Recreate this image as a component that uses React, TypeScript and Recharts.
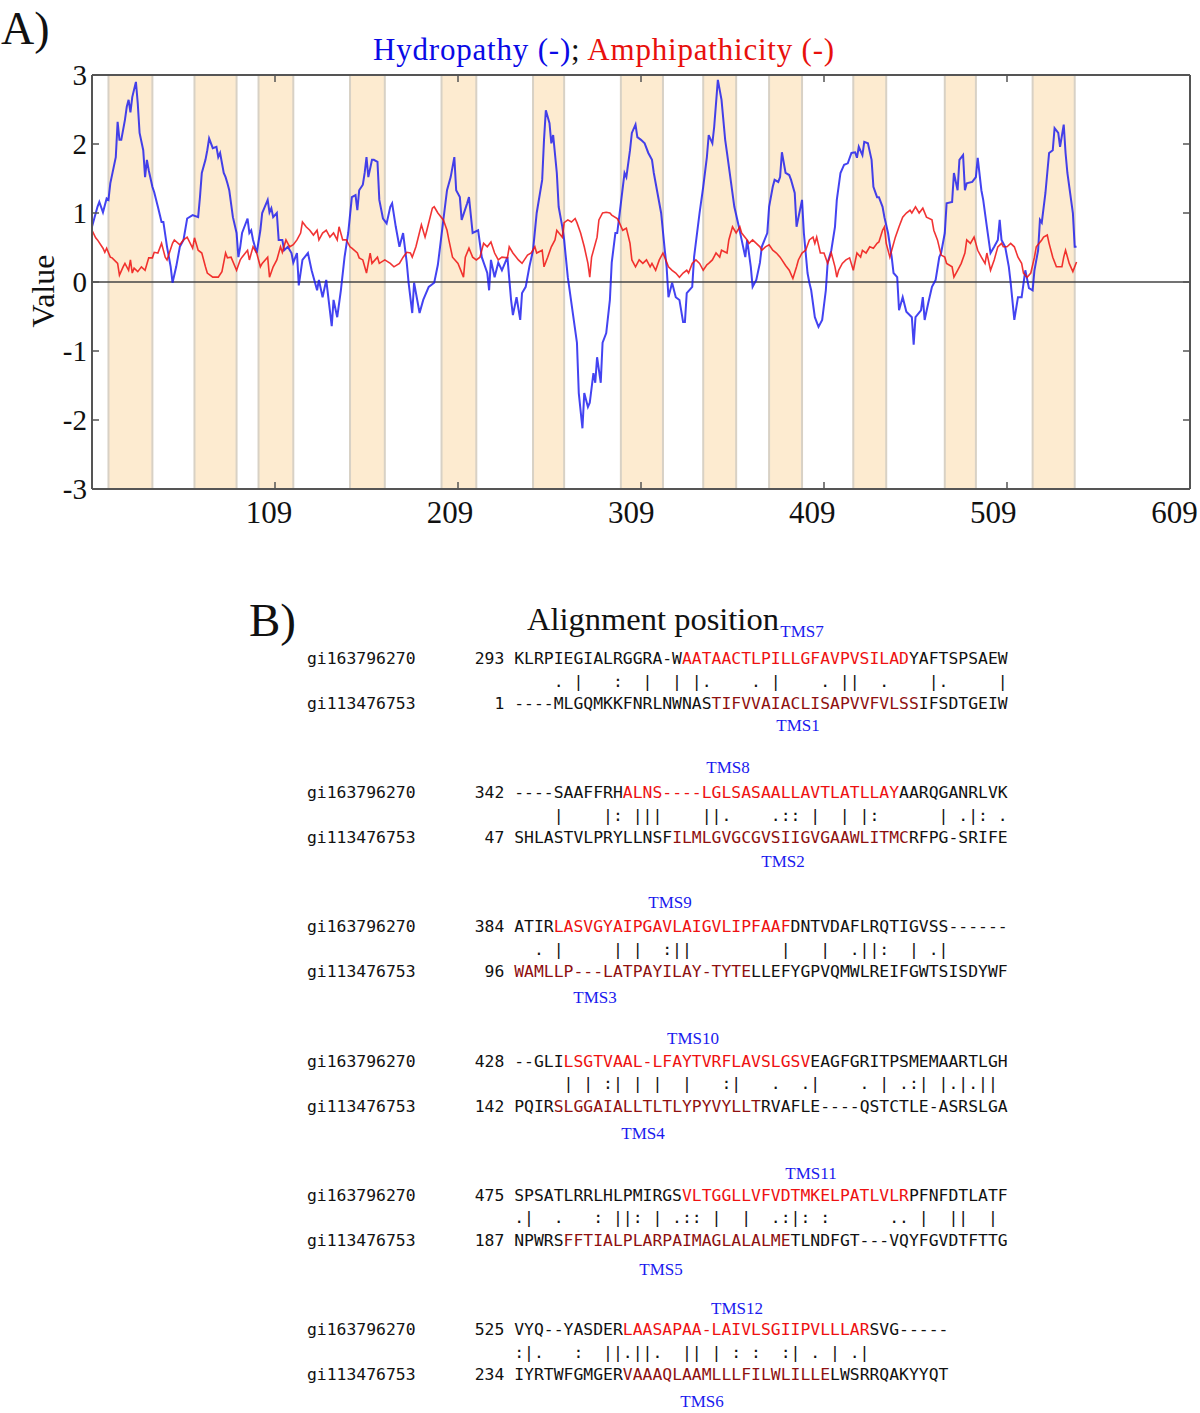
import React from "react";
import { LineChart, Line, XAxis, YAxis, ReferenceArea, ReferenceLine } from "recharts";

// residue positions and hydropathy values (blue)
const hydroPos = [
  9, 12, 13, 15, 17, 18, 19, 22, 23, 24, 25, 27, 28, 29, 30, 31, 33, 34, 35, 37, 38, 39, 40, 42, 43, 45, 47, 48, 50, 52,
  53, 55, 57, 59, 61, 64, 67, 68, 69, 71, 72, 73, 75, 77, 78, 79, 81, 82, 83, 84, 86, 88, 89, 90, 91, 94, 95, 96, 97, 99,
  101, 102, 105, 106, 107, 108, 110, 111, 113, 114, 116, 118, 119, 121, 122, 124, 127, 129, 132, 133, 135, 137, 140, 141,
  143, 145, 147, 149, 151, 153, 154, 155, 157, 158, 159, 160, 162, 163, 165, 166, 168, 170, 172, 173, 175, 177, 179, 181,
  182, 184, 185, 188, 190, 193, 196, 198, 201, 203, 205, 207, 208, 210, 211, 214, 215, 217, 220, 222, 225, 226, 227, 229,
  231, 233, 236, 238, 239, 241, 243, 244, 246, 248, 250, 252, 255, 256, 257, 259, 260, 261, 263, 264, 266, 267, 269, 274,
  275, 277, 278, 280, 281, 283, 284, 285, 287, 288, 290, 292, 293, 295, 296, 298, 300, 301, 303, 304, 306, 307, 309, 311,
  313, 315, 316, 318, 320, 322, 323, 324, 326, 328, 330, 332, 333, 334, 337, 338, 341, 343, 345, 346, 348, 349, 351, 353,
  355, 356, 358, 360, 362, 364, 366, 367, 369, 370, 372, 374, 375, 378, 379, 381, 382, 384, 385, 386, 388, 390, 391, 393,
  394, 397, 398, 400, 401, 402, 404, 406, 408, 410, 411, 413, 415, 416, 418, 420, 422, 424, 426, 427, 428, 430, 431, 433,
  435, 436, 438, 439, 441, 442, 444, 446, 447, 449, 450, 452, 454, 457, 458, 459, 462, 463, 464, 466, 468, 470, 472, 473,
  475, 476, 479, 480, 482, 483, 485, 486, 487, 490, 492, 493, 495, 496, 498, 500, 502, 504, 505, 506, 508, 510, 511, 513,
  515, 517, 519, 521, 523, 524, 526, 527, 528, 530, 532, 534, 535, 537, 538, 540, 541, 542, 545, 546, 547,
];
const hydroVal = [
  0.8, 1.09, 1.16, 1.01, 1.21, 1.19, 1.43, 1.81, 2.32, 2.06, 2.06, 2.35, 2.54, 2.64, 2.46, 2.68, 2.9, 2.59, 2.16, 1.91,
  1.52, 1.77, 1.62, 1.38, 1.3, 1.09, 0.87, 0.87, 0.51, 0.22, -0.01, 0.22, 0.51, 0.61, 0.92, 0.97, 0.94, 1.23, 1.58, 1.77,
  1.91, 2.08, 1.94, 1.96, 1.81, 1.87, 1.58, 1.52, 1.43, 1.33, 0.94, 0.71, 0.36, 0.51, 0.71, 0.92, 0.71, 0.75, 0.61, 0.42,
  0.75, 1.0, 1.19, 1.01, 1.07, 0.94, 1.0, 0.61, 0.61, 0.46, 0.51, 0.42, 0.28, 0.42, -0.05, 0.32, 0.42, 0.17, -0.12, 0.03,
  -0.22, 0.03, -0.64, -0.26, -0.51, -0.12, 0.36, 0.71, 1.23, 1.26, 1.04, 1.33, 1.41, 1.58, 1.81, 1.52, 1.77, 1.77, 1.74,
  1.19, 0.92, 0.85, 1.09, 1.14, 0.8, 0.51, 0.71, 0.28, -0.01, -0.45, -0.01, -0.45, -0.26, -0.07, -0.01, 0.25, 0.9, 1.33,
  1.52, 1.81, 1.33, 1.23, 0.9, 1.14, 1.23, 0.71, 0.75, 0.36, 0.13, -0.12, 0.32, 0.07, 0.28, 0.17, 0.36, -0.26, -0.48,
  -0.22, -0.55, -0.16, -0.07, 0.22, 0.46, 1.0, 1.48, 2.06, 2.49, 2.3, 2.01, 2.13, 1.58, 1.09, 0.8, 0.61, 0.07, -0.88,
  -1.61, -2.12, -1.61, -1.81, -1.75, -1.32, -1.46, -1.09, -1.46, -0.88, -0.74, -0.26, 0.28, 0.71, 0.71, 1.14, 1.58, 1.52,
  1.91, 2.16, 2.28, 2.1, 2.06, 2.01, 1.87, 1.77, 1.58, 1.29, 1.0, 0.46, 0.22, -0.22, -0.01, -0.22, -0.26, -0.58, -0.58,
  -0.16, -0.07, 0.36, 1.0, 1.38, 1.81, 2.13, 2.01, 2.25, 2.93, 2.64, 2.06, 1.87, 1.48, 1.09, 0.86, 0.61, 0.36, 0.61, 0.22,
  -0.07, 0.03, 0.28, 0.51, 0.71, 1.09, 1.38, 1.48, 1.45, 1.52, 1.88, 1.58, 1.55, 1.48, 1.29, 0.8, 1.19, 0.71, 0.13, -0.01,
  -0.12, -0.51, -0.65, -0.55, -0.12, 0.28, 0.46, 0.8, 1.19, 1.58, 1.7, 1.72, 1.87, 1.88, 1.8, 1.96, 1.84, 2.03, 2.01, 1.77,
  1.38, 1.23, 1.23, 1.09, 0.94, 0.71, 0.36, 0.13, 0.07, -0.41, -0.22, -0.43, -0.51, -0.91, -0.51, -0.41, -0.22, -0.55,
  -0.3, -0.07, 0.03, 0.36, 0.42, 0.71, 1.14, 1.16, 1.58, 1.33, 1.77, 1.84, 1.33, 1.43, 1.45, 1.52, 1.8, 1.33, 1.19, 0.8,
  0.42, 0.51, 0.61, 0.9, 0.61, 0.51, 0.22, -0.01, -0.55, -0.22, -0.22, 0.17, -0.09, -0.12, 0.17, 0.46, 0.9, 0.86, 1.29,
  1.87, 1.91, 2.23, 2.16, 1.96, 2.28, 1.87, 1.58, 1.0, 0.51, 0.51,
];

// residue positions and amphipathicity values (red)
const amphiPos = [
  9, 11, 12, 15, 16, 17, 19, 20, 23, 24, 26, 27, 29, 30, 31, 32, 34, 36, 38, 40, 42, 43, 45, 47, 49, 50, 53, 54, 57, 59,
  61, 64, 65, 67, 69, 71, 72, 75, 78, 80, 82, 83, 85, 88, 90, 91, 94, 95, 97, 99, 101, 102, 105, 106, 108, 110, 112, 113,
  115, 117, 119, 121, 123, 124, 126, 128, 130, 132, 133, 135, 137, 139, 141, 143, 144, 146, 148, 150, 151, 154, 155, 157,
  159, 161, 162, 165, 166, 169, 172, 174, 177, 179, 181, 183, 184, 186, 189, 191, 192, 195, 196, 198, 201, 203, 204, 206,
  209, 212, 213, 215, 217, 219, 221, 223, 225, 227, 229, 231, 233, 236, 237, 239, 242, 244, 247, 249, 251, 252, 255, 256,
  258, 260, 262, 263, 266, 267, 269, 271, 273, 274, 276, 278, 280, 281, 282, 285, 286, 288, 290, 292, 293, 296, 297, 299,
  301, 303, 304, 306, 308, 310, 312, 314, 315, 317, 319, 321, 323, 324, 326, 328, 330, 332, 334, 335, 337, 339, 341, 343,
  345, 346, 348, 350, 352, 353, 356, 357, 359, 361, 363, 364, 367, 368, 370, 372, 374, 375, 377, 379, 381, 383, 385, 386,
  388, 390, 392, 394, 395, 397, 399, 401, 403, 404, 405, 407, 409, 411, 413, 415, 416, 417, 419, 421, 423, 425, 427, 429,
  430, 432, 434, 436, 438, 439, 441, 442, 443, 445, 446, 448, 450, 452, 454, 456, 457, 459, 461, 463, 465, 468, 469, 471,
  473, 475, 476, 479, 480, 482, 484, 486, 487, 489, 491, 493, 495, 497, 498, 500, 502, 504, 506, 507, 509, 511, 513, 515,
  517, 518, 520, 522, 524, 525, 528, 529, 531, 532, 534, 536, 539, 540, 541, 543, 545, 547,
];
const amphiVal = [
  0.75, 0.64, 0.61, 0.49, 0.43, 0.49, 0.36, 0.35, 0.27, 0.1, 0.22, 0.27, 0.17, 0.32, 0.13, 0.2, 0.15, 0.22, 0.17, 0.35,
  0.35, 0.43, 0.42, 0.56, 0.36, 0.32, 0.56, 0.61, 0.54, 0.61, 0.65, 0.49, 0.64, 0.46, 0.42, 0.22, 0.13, 0.07, 0.07, 0.15,
  0.42, 0.35, 0.36, 0.17, 0.32, 0.36, 0.46, 0.32, 0.51, 0.42, 0.22, 0.27, 0.36, 0.07, 0.22, 0.32, 0.51, 0.43, 0.61, 0.51,
  0.54, 0.61, 0.71, 0.87, 0.8, 0.75, 0.68, 0.75, 0.61, 0.71, 0.75, 0.65, 0.71, 0.61, 0.8, 0.61, 0.61, 0.51, 0.49, 0.42,
  0.35, 0.32, 0.13, 0.42, 0.27, 0.36, 0.27, 0.32, 0.27, 0.22, 0.27, 0.36, 0.43, 0.42, 0.36, 0.51, 0.83, 0.65, 0.75, 1.07,
  1.09, 1.0, 0.9, 0.75, 0.61, 0.36, 0.27, 0.07, 0.36, 0.49, 0.36, 0.32, 0.36, 0.56, 0.51, 0.58, 0.42, 0.32, 0.36, 0.35,
  0.51, 0.42, 0.32, 0.27, 0.39, 0.42, 0.51, 0.42, 0.46, 0.22, 0.36, 0.51, 0.61, 0.75, 0.65, 0.86, 0.9, 0.87, 0.92, 0.86,
  0.71, 0.51, 0.27, 0.07, 0.36, 0.65, 0.9, 1.0, 1.01, 1.0, 0.97, 0.92, 0.87, 0.75, 0.78, 0.56, 0.32, 0.22, 0.32, 0.27,
  0.32, 0.22, 0.27, 0.17, 0.32, 0.42, 0.29, 0.22, 0.17, 0.13, 0.07, 0.13, 0.17, 0.13, 0.27, 0.32, 0.27, 0.17, 0.25, 0.27,
  0.32, 0.42, 0.36, 0.46, 0.42, 0.61, 0.8, 0.71, 0.8, 0.71, 0.61, 0.56, 0.61, 0.56, 0.51, 0.46, 0.51, 0.54, 0.46, 0.42,
  0.36, 0.32, 0.24, 0.17, 0.05, 0.22, 0.32, 0.42, 0.46, 0.61, 0.65, 0.56, 0.65, 0.42, 0.42, 0.27, 0.42, 0.22, 0.07, 0.17,
  0.27, 0.32, 0.35, 0.17, 0.42, 0.36, 0.46, 0.42, 0.51, 0.49, 0.56, 0.58, 0.75, 0.8, 0.56, 0.36, 0.46, 0.65, 0.8, 0.94,
  1.0, 1.04, 1.0, 1.09, 1.0, 1.07, 0.94, 0.9, 0.75, 0.61, 0.39, 0.36, 0.27, 0.22, 0.07, 0.17, 0.27, 0.42, 0.61, 0.56,
  0.65, 0.46, 0.36, 0.27, 0.42, 0.17, 0.32, 0.51, 0.56, 0.51, 0.51, 0.56, 0.51, 0.36, 0.27, 0.13, 0.07, 0.13, 0.36, 0.51,
  0.61, 0.65, 0.68, 0.56, 0.36, 0.22, 0.22, 0.36, 0.46, 0.27, 0.15, 0.29,
];

// predicted TMS regions (shaded)
const tmsStart = [18, 65, 100, 150, 200, 250, 298, 343, 379, 425, 475, 523];
const tmsEnd = [42, 88, 119, 169, 219, 267, 321, 361, 397, 443, 492, 546];

const xTicks = [109, 209, 309, 409, 509, 609];
const yTicks = [-3, -2, -1, 0, 1, 2, 3];

// alignment (panel B)
const topName = "gi163796270";
const bottomName = "gi113476753";
const topStarts = [293, 342, 384, 428, 475, 525];
const bottomStarts = [1, 47, 96, 142, 187, 234];
const topSeqs = [
  ["KLRPIEGIALRGGRA-W", "AATAACTLPILLGFAVPVSILAD", "YAFTSPSAEW"],
  ["----SAAFFRH", "ALNS----LGLSASAALLAVTLATLLAY", "AARQGANRLVK"],
  ["ATIR", "LASVGYAIPGAVLAIGVLIPFAAF", "DNTVDAFLRQTIGVSS------"],
  ["--GLI", "LSGTVAAL-LFAYTVRFLAVSLGSV", "EAGFGRITPSMEMAARTLGH"],
  ["SPSATLRRLHLPMIRGS", "VLTGGLLVFVDTMKELPATLVLR", "PFNFDTLATF"],
  ["VYQ--YASDER", "LAASAPAA-LAIVLSGIIPVLLLAR", "SVG-----"],
];
const bottomSeqs = [
  ["----MLGQMKKFNRLNWNAS", "TIFVVAIACLISAPVVFVLSS", "IFSDTGEIW"],
  ["SHLASTVLPRYLLNSF", "ILMLGVGCGVSIIGVGAAWLITMC", "RFPG-SRIFE"],
  ["", "WAMLLP---LATPAYILAY-TYTE", "LLEFYGPVQMWLREIFGWTSISDYWF"],
  ["PQIR", "SLGGAIALLTLTLYPYVYLLT", "RVAFLE----QSTCTLE-ASRSLGA"],
  ["NPWRS", "FFTIALPLARPAIMAGLALALME", "TLNDFGT---VQYFGVDTFTTG"],
  ["IYRTWFGMGER", "VAAAQLAAMLLLFILWLILLE", "LWSRRQAKYYQT"],
];
const matchLines = [
  "    . |   :  |  | |.    . |    . ||  .    |.     |",
  "    |    |: |||    ||.    .:: |  | |:      | .|: .",
  "  . |     | |  :||         |   |  .||:  | .|",
  "     | | :| | |  |   :|   .  .|    . | .:| |.|.||",
  ".|  .   : ||: | .:: |  |  .:|: :      .. |  ||  |",
  ":|.   :  ||.||.  || | : :  :| . | .|",
];
const topTms = ["TMS7", "TMS8", "TMS9", "TMS10", "TMS11", "TMS12"];
const bottomTms = ["TMS1", "TMS2", "TMS3", "TMS4", "TMS5", "TMS6"];

// label placement for panel B
const topTmsX = [802, 728, 670, 693, 811, 737];
const topTmsY = [637, 773, 908, 1044, 1179, 1314];
const bottomTmsX = [798, 783, 595, 643, 661, 702];
const bottomTmsY = [731, 867, 1003, 1139, 1275, 1407];

const hydroData = hydroPos.map((x, i) => ({ x, v: hydroVal[i] }));
const amphiData = amphiPos.map((x, i) => ({ x, v: amphiVal[i] }));

const SERIF = '"Liberation Serif", "Times New Roman", serif';
const MONO = '"DejaVu Sans Mono", monospace';
const AXIS = "#555";
const BLUE = "#1414ee";
const RED = "#ee1111";
const DARK_RED = "#8e1010";

function LeftTick(props: any) {
  const { x, y, payload } = props;
  return (
    <g>
      <line x1={x} x2={x + 7} y1={y} y2={y} stroke={AXIS} strokeWidth={1.5} />
      <text x={x - 5} y={y} dy="0.35em" textAnchor="end" fontFamily={SERIF} fontSize={29} fill="#111">
        {payload.value}
      </text>
    </g>
  );
}

function RightTick(props: any) {
  const { x, y } = props;
  return <line x1={x - 7} x2={x} y1={y} y2={y} stroke={AXIS} strokeWidth={1.5} />;
}

function TopTick(props: any) {
  const { x, y } = props;
  return <line x1={x} x2={x} y1={y} y2={y + 7} stroke={AXIS} strokeWidth={1.5} />;
}

function BottomTick(props: any) {
  const { x, y, payload } = props;
  const dx = -6 - (x - 274) * 0.0105;
  return (
    <g>
      <line x1={x} x2={x} y1={y} y2={y - 7} stroke={AXIS} strokeWidth={1.5} />
      <text x={x + dx} y={y + 34} textAnchor="middle" fontFamily={SERIF} fontSize={31} fill="#111">
        {payload.value}
      </text>
    </g>
  );
}

function Profile() {
  const frame = { stroke: AXIS, strokeWidth: 2 };
  return (
    <LineChart width={1200} height={540} margin={{ top: 0, right: 0, bottom: 0, left: 0 }}>
      <XAxis
        type="number"
        dataKey="x"
        domain={[9, 609]}
        ticks={xTicks}
        interval={0}
        height={51}
        tickSize={0}
        tickMargin={0}
        tickLine={false}
        axisLine={frame}
        tick={<BottomTick />}
        allowDataOverflow
      />
      <XAxis
        xAxisId="top"
        orientation="top"
        type="number"
        dataKey="x"
        domain={[9, 609]}
        ticks={xTicks}
        interval={0}
        height={75}
        tickSize={0}
        tickMargin={0}
        tickLine={false}
        axisLine={frame}
        tick={<TopTick />}
        allowDataOverflow
      />
      <YAxis
        type="number"
        domain={[-3, 3]}
        ticks={yTicks}
        interval={0}
        width={92}
        tickSize={0}
        tickMargin={0}
        tickLine={false}
        axisLine={frame}
        tick={<LeftTick />}
        allowDataOverflow
      />
      <YAxis
        yAxisId="right"
        orientation="right"
        type="number"
        domain={[-3, 3]}
        ticks={yTicks}
        interval={0}
        width={10}
        tickSize={0}
        tickMargin={0}
        tickLine={false}
        axisLine={frame}
        tick={<RightTick />}
        allowDataOverflow
      />
      {tmsStart.map((s, i) => (
        <ReferenceArea
          key={i}
          x1={s}
          x2={tmsEnd[i]}
          y1={-3}
          y2={3}
          fill="#fdebd0"
          fillOpacity={1}
          stroke="#d8d1c5"
          strokeWidth={2}
        />
      ))}
      <ReferenceLine y={0} stroke="#444" strokeWidth={1.5} />
      <Line
        data={hydroData}
        dataKey="v"
        type="linear"
        stroke={BLUE}
        strokeOpacity={0.8}
        strokeWidth={2}
        dot={false}
        isAnimationActive={false}
      />
      <Line
        data={amphiData}
        dataKey="v"
        type="linear"
        stroke={RED}
        strokeOpacity={0.85}
        strokeWidth={1.6}
        dot={false}
        isAnimationActive={false}
      />
    </LineChart>
  );
}

function seqRow(name: string, start: number, segs: string[], hi: string, y: number, key: string) {
  return (
    <text key={key} x={307} y={y} fontFamily={MONO} fontSize={16.4} fill="#111" xmlSpace="preserve" style={{ whiteSpace: "pre" }}>
      <tspan>{name.padEnd(17) + String(start).padStart(3) + " "}</tspan>
      <tspan>{segs[0]}</tspan>
      <tspan fill={hi}>{segs[1]}</tspan>
      <tspan>{segs[2]}</tspan>
    </text>
  );
}

function Alignment() {
  const row0 = 664;
  const block = 134.2;
  return (
    <g>
      <text x={249} y={636} fontFamily={SERIF} fontSize={47} fill="#111">B)</text>
      <text x={527} y={630} fontFamily={SERIF} fontSize={32.5} fill="#111">Alignment position</text>
      {topSeqs.map((segs, k) => {
        const y = row0 + block * k;
        return (
          <g key={k}>
            <text x={topTmsX[k]} y={topTmsY[k]} textAnchor="middle" fontFamily={SERIF} fontSize={17} fill="#1a1aee">
              {topTms[k]}
            </text>
            {seqRow(topName, topStarts[k], segs, RED, y, "t")}
            <text x={307} y={y + 22.5} fontFamily={MONO} fontSize={16.4} fill="#111" xmlSpace="preserve" style={{ whiteSpace: "pre" }}>
              {" ".repeat(21) + matchLines[k]}
            </text>
            {seqRow(bottomName, bottomStarts[k], bottomSeqs[k], DARK_RED, y + 45, "b")}
            <text x={bottomTmsX[k]} y={bottomTmsY[k]} textAnchor="middle" fontFamily={SERIF} fontSize={17} fill="#1a1aee">
              {bottomTms[k]}
            </text>
          </g>
        );
      })}
    </g>
  );
}

export default function App() {
  return (
    <div style={{ position: "relative", width: 1200, height: 1413, background: "#fff" }}>
      <style>{"body{margin:0;background:#fff}"}</style>
      <Profile />
      <svg
        width={1200}
        height={1413}
        style={{ position: "absolute", left: 0, top: 0, pointerEvents: "none" }}
      >
        <text x={1} y={44} fontFamily={SERIF} fontSize={46} fill="#111">A)</text>
        <text x={604} y={60} textAnchor="middle" fontFamily={SERIF} fontSize={31} letterSpacing={0.8}>
          <tspan fill="#0a0ae6">Hydropathy (-)</tspan>
          <tspan fill="#111">; </tspan>
          <tspan fill="#e8100c">Amphipathicity (-)</tspan>
        </text>
        <text transform="translate(54,291) rotate(-90)" textAnchor="middle" fontFamily={SERIF} fontSize={32} fill="#111">
          Value
        </text>
        <Alignment />
      </svg>
    </div>
  );
}
